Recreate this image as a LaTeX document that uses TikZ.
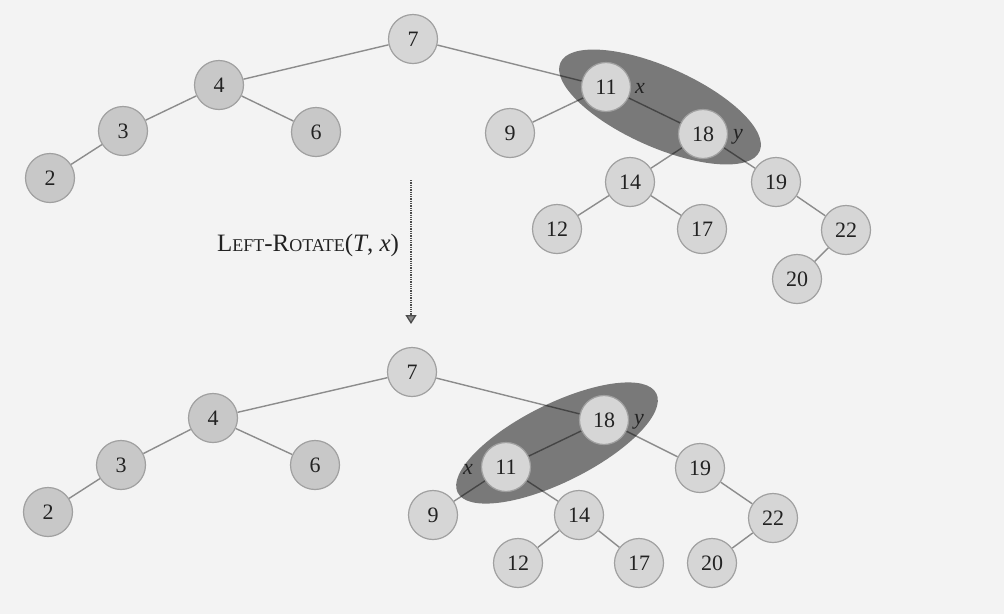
\documentclass[tikz,border=0pt]{standalone}
\usepackage{fontspec}
\setmainfont{Liberation Serif}
\usetikzlibrary{arrows.meta}
\pgfdeclarelayer{bottom}
\pgfdeclarelayer{background}
\pgfsetlayers{bottom,background,main}
\definecolor{bgc}{HTML}{F3F3F3}
\definecolor{nfill}{HTML}{D6D6D6}
\definecolor{nfilld}{HTML}{C8C8C8}
\definecolor{ndraw}{HTML}{A0A0A0}
\definecolor{ecol}{HTML}{8C8C8C}
\definecolor{tcol}{HTML}{222222}
\tikzset{
  tn/.style={circle, minimum size=49pt, inner sep=0pt, fill=nfill, draw=ndraw, line width=1.2pt,
    text=tcol, font=\fontsize{22}{24}\selectfont},
  tnd/.style={tn, fill=nfilld},
  lbl/.style={inner sep=0pt, text=tcol, font=\fontsize{22}{24}\selectfont\itshape},
  edge/.style={draw=ecol, line width=1.4pt},
  shade/.style={fill=black, fill opacity=0.5},
}
\begin{document}
\begin{tikzpicture}[x=1pt,y=-1pt]
\begin{pgfonlayer}{bottom}
\fill[bgc] (0,0) rectangle (1004,614);
\end{pgfonlayer}
\useasboundingbox (0,0) rectangle (1004,614);
% ---------- top tree ----------
\node[tn]  (a7)  at (413,39)  {7};
\node[tnd] (a4)  at (219,85)  {4};
\node[tnd] (a3)  at (123,131) {3};
\node[tnd] (a6)  at (316,132) {6};
\node[tnd] (a2)  at (50,178)  {2};
\node[tn]  (a11) at (606,87)  {11};
\node[tn]  (a9)  at (510,133) {9};
\node[tn]  (a18) at (703,134) {18};
\node[tn]  (a14) at (630,182) {14};
\node[tn]  (a19) at (776,182) {19};
\node[tn]  (a12) at (557,229) {12};
\node[tn]  (a17) at (702,229) {17};
\node[tn]  (a22) at (846,230) {22};
\node[tn]  (a20) at (797,279) {20};
\node[lbl] (ax)  at (640,88)  {x};
\node[lbl] (ay)  at (738,137) {y};
% ---------- bottom tree ----------
\node[tn]  (b7)  at (412,372) {7};
\node[tnd] (b4)  at (213,418) {4};
\node[tnd] (b3)  at (121,465) {3};
\node[tnd] (b6)  at (315,465) {6};
\node[tnd] (b2)  at (48,512)  {2};
\node[tn]  (b18) at (604,420) {18};
\node[tn]  (b11) at (506,467) {11};
\node[tn]  (b19) at (700,468) {19};
\node[tn]  (b9)  at (433,515) {9};
\node[tn]  (b14) at (579,515) {14};
\node[tn]  (b22) at (773,518) {22};
\node[tn]  (b12) at (518,563) {12};
\node[tn]  (b17) at (639,563) {17};
\node[tn]  (b20) at (712,563) {20};
\node[lbl] (bx)  at (468,469) {x};
\node[lbl] (by)  at (639,422) {y};
% ---------- arrow and label ----------
\coordinate (as) at (411,180);
\coordinate (ae) at (411,324);
\draw[densely dotted, line width=1.3pt, draw=black!70, -{Triangle[length=9pt,width=11pt,fill=black!45]}] (as) -- (ae);
\node[text=tcol, font=\fontsize{25}{27}\selectfont] (lab) at (308,245)
  {L{\fontsize{18}{20}\selectfont EFT}-R{\fontsize{18}{20}\selectfont OTATE}(\textit{T}, \textit{x})};
% ---------- edges and shading ----------
\begin{pgfonlayer}{background}
\foreach \u/\v in {a7/a4,a4/a3,a4/a6,a3/a2,a7/a11,a11/a9,a11/a18,a18/a14,a18/a19,a14/a12,a14/a17,a19/a22,a22/a20,
                   b7/b4,b4/b3,b4/b6,b3/b2,b7/b18,b18/b11,b18/b19,b11/b9,b11/b14,b14/b12,b14/b17,b19/b22,b22/b20}
  \path[edge] (\u) -- (\v);
\fill[shade, shift={(660,107)}, rotate=-24] (0,0) ellipse [x radius=109pt, y radius=40pt];
\fill[shade, shift={(557,443)}, rotate=26.5] (0,0) ellipse [x radius=111pt, y radius=39pt];
\end{pgfonlayer}
\end{tikzpicture}
\end{document}
